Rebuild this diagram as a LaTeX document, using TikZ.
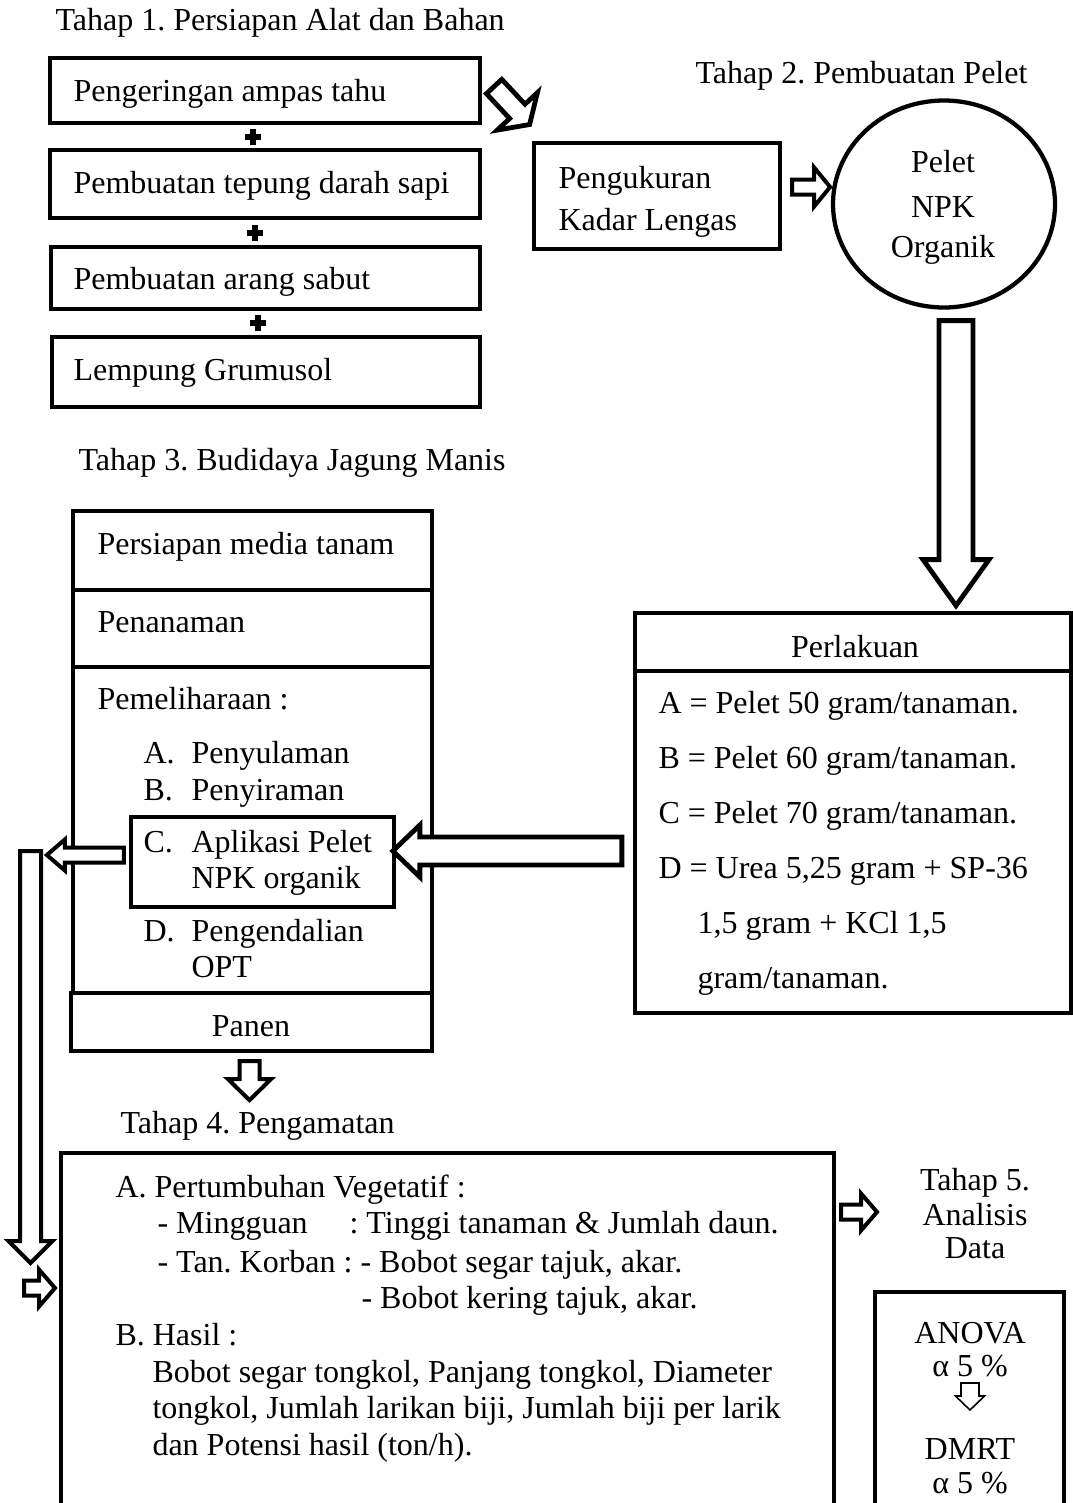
\documentclass[tikz,border=0pt]{standalone}
\usepackage{fontspec}
\setmainfont{Liberation Serif}
\usetikzlibrary{positioning,calc,fit,shapes.geometric}
\newcommand{\pxu}{0.375pt}
\frenchspacing

\begin{document}
\begin{tikzpicture}[x=0.375pt, y=-0.375pt, font=\fontsize{12}{14.1}\selectfont,
    box/.style={draw, line width=1.6pt, inner sep=0pt},
    txt/.style={inner sep=0pt, anchor=base west},
    ctxt/.style={inner sep=0pt, anchor=base},
    bigarrow/.style={line width=1.8pt},
    midarrow/.style={line width=1.5pt},
    thinarrow/.style={line width=0.6pt},
    pics/blockarrow/.style args={#1/#2/#3/#4}{code={%
        \draw[fill=white] (0,-#2/2) -- ({#1-#4},-#2/2) -- ({#1-#4},-#3/2) -- (#1,0)
          -- ({#1-#4},#3/2) -- ({#1-#4},#2/2) -- (0,#2/2) -- cycle;}},
    pics/plussign/.style={code={%
        \fill (-8,-3) rectangle (8,3);
        \fill (-3,-8) rectangle (3,8);}},
  ]
  \useasboundingbox (0,0) rectangle (1073,1503);

  % Tahap 1
  \node[txt] (t1) at (55,30) {Tahap 1. Persiapan Alat dan Bahan};
  \node[box, fit={(50,58) (480,123)}] (prep1) {};
  \node[box, fit={(50,150) (480,218)}] (prep2) {};
  \node[box, fit={(51,247) (480,309)}] (prep3) {};
  \node[box, fit={(52,337) (480,407)}] (prep4) {};
  \node[txt] (ampas) at (73,101) {Pengeringan ampas tahu};
  \node[txt] (darah) at (73,193) {Pembuatan tepung darah sapi};
  \node[txt] (arang) at (73,289) {Pembuatan arang sabut};
  \node[txt] (lempung) at (73,380) {Lempung Grumusol};
  \pic at ($(prep1.south)!0.5!(prep2.north)+(-12,0)$) {plussign};
  \pic at ($(prep2.south)!0.5!(prep3.north)+(-10,0)$) {plussign};
  \pic at ($(prep3.south)!0.5!(prep4.north)+(-8,0)$) {plussign};
  \pic[bigarrow, rotate=-47] at ($(prep1.east)+(12,-4)$) {blockarrow=52/21/55/18};

  % Tahap 2
  \node[txt] (t2) at (695,83) {Tahap 2. Pembuatan Pelet};
  \node[box, fit={(534,143) (780,249)}] (lengas) {};
  \node[txt] (lengas1) at (558,188) {Pengukuran};
  \node[txt] (lengas2) at (558,230) {Kadar Lengas};
  \node[box, ellipse, minimum width=222*\pxu, minimum height=207*\pxu] (pelet) at (944,204) {};
  \node[ctxt] (pelet1) at (943,172) {Pelet};
  \node[ctxt] (pelet2) at (943,217) {NPK};
  \node[ctxt] (pelet3) at (943,257) {Organik};
  \pic[midarrow] at ($(lengas.east)+(10,-9)$) {blockarrow=38/15/39/16};
  \pic[bigarrow, rotate=-90] at ($(pelet.south)+(12,11)$) {blockarrow=285/34/66/46};

  % Perlakuan
  \node[box, fit={(635,613) (1071,1013)}] (perlakuan) {};
  \draw[line width=1.6pt] (635,671) -- (1071,671);
  \node[ctxt] (perl) at (855,657) {Perlakuan};
  \node[txt] (pa) at (658,713) {A = Pelet 50 gram/tanaman.};
  \node[txt] (pb) at (658,768) {B = Pelet 60 gram/tanaman.};
  \node[txt] (pc) at (658,823) {C = Pelet 70 gram/tanaman.};
  \node[txt] (pd) at (658,878) {D = Urea 5,25 gram + SP-36};
  \node[txt] (pd2) at (697,933) {1,5 gram + KCl 1,5};
  \node[txt] (pd3) at (697,988) {gram/tanaman.};

  % Tahap 3
  \node[txt] (t3) at (78,470) {Tahap 3. Budidaya Jagung Manis};
  \node[box, fit={(73,511) (432,993)}] (budi) {};
  \draw[line width=1.6pt] (73,590) -- (432,590);
  \draw[line width=1.6pt] (73,667) -- (432,667);
  \node[box, fit={(71,993) (432,1051)}] (panen) {};
  \node[ctxt] (panentxt) at (251,1036) {Panen};
  \node[txt] (media) at (97,554) {Persiapan media tanam};
  \node[txt] (tanam) at (97,632) {Penanaman};
  \node[txt] (pelihara) at (97,709) {Pemeliharaan :};
  \node[txt] (la) at (143,763) {A.};
  \node[txt] (sulam) at (191,763) {Penyulaman};
  \node[txt] (lb) at (143,800) {B.};
  \node[txt] (siram) at (191,800) {Penyiraman};
  \node[box, fit={(131,817) (394,907)}] (aplikasi) {};
  \node[txt] (lc) at (143,852) {C.};
  \node[txt] (apl1) at (191,852) {Aplikasi Pelet};
  \node[txt] (apl2) at (191,888) {NPK organik};
  \node[txt] (ld) at (143,941) {D.};
  \node[txt] (opt1) at (191,941) {Pengendalian};
  \node[txt] (opt2) at (191,977) {OPT};
  \pic[bigarrow, rotate=180] at ($(perlakuan.west)+(-11,38)$) {blockarrow=229/28/52/27};
  \pic[midarrow, rotate=180] at ($(aplikasi.west)+(-5,-7)$) {blockarrow=77/15/31/18};
  \pic[midarrow, rotate=-90] at (30.5,851) {blockarrow=412/21/44/22};
  \pic[midarrow] at (24,1288) {blockarrow=31/15/37/16};
  \pic[midarrow, rotate=-90] at ($(panen.south)+(-2,8)$) {blockarrow=39/20/43/21};

  % Tahap 4
  \node[txt] (t4) at (120,1133) {Tahap 4. Pengamatan};
  \node[box, fit={(61,1153) (834,1530)}] (amat) {};
  \node[txt] (veg) at (115,1197) {A. Pertumbuhan Vegetatif :};
  \node[txt] (minggu) at (157,1233) {- Mingguan};
  \node[txt] (tinggi) at (349,1233) {: Tinggi tanaman \& Jumlah daun.};
  \node[txt] (korban) at (157,1272) {- Tan. Korban : - Bobot segar tajuk, akar.};
  \node[txt] (kering) at (361,1308) {- Bobot kering tajuk, akar.};
  \node[txt] (hasil) at (115,1345) {B. Hasil :};
  \node[txt] (hasil1) at (152,1382) {Bobot segar tongkol, Panjang tongkol, Diameter};
  \node[txt] (hasil2) at (152,1418) {tongkol, Jumlah larikan biji, Jumlah biji per larik};
  \node[txt] (hasil3) at (152,1455) {dan Potensi hasil (ton/h).};
  \pic[midarrow] at (841,1212) {blockarrow=36/15/37/16};

  % Tahap 5
  \node[ctxt] (t5a) at (975,1190) {Tahap 5.};
  \node[ctxt] (t5b) at (975,1225) {Analisis};
  \node[ctxt] (t5c) at (975,1258) {Data};
  \node[box, fit={(875,1292) (1064,1530)}] (anova) {};
  \node[ctxt] (anova1) at (970,1343) {ANOVA};
  \node[ctxt] (anova2) at (970,1376) {α 5 \%};
  \pic[thinarrow, rotate=-90] at (970,1383) {blockarrow=27/18/29/14};
  \node[ctxt] (dmrt1) at (970,1459) {DMRT};
  \node[ctxt] (dmrt2) at (970,1493) {α 5 \%};
\end{tikzpicture}
\end{document}
